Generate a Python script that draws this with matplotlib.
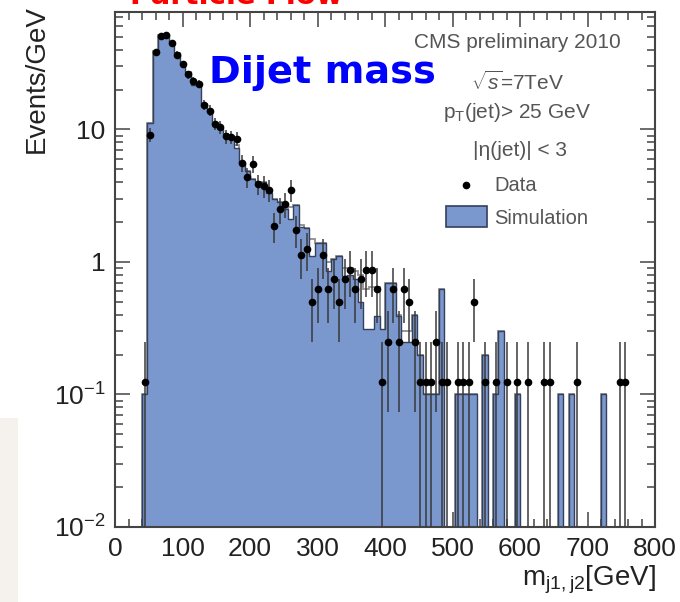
import numpy as np
import matplotlib
matplotlib.use("Agg")
import matplotlib.pyplot as plt
from matplotlib.patches import Rectangle
from matplotlib.lines import Line2D
from matplotlib.ticker import FixedLocator, FixedFormatter, MultipleLocator, LogLocator, NullFormatter

plt.rcParams['font.family'] = ['Liberation Sans', 'DejaVu Sans']
plt.rcParams['mathtext.fontset'] = 'custom'
plt.rcParams['mathtext.rm'] = 'Liberation Sans'
plt.rcParams['mathtext.it'] = 'Liberation Sans:italic'
plt.rcParams['mathtext.bf'] = 'Liberation Sans:bold'

# 8 GeV bins from 0 to 800 GeV
BIN_WIDTH = 8
bin_edges = np.arange(0, 800 + BIN_WIDTH, BIN_WIDTH)

# events per bin in data
data_counts = [
    0, 0, 0, 0, 0, 1, 73, 309, 405, 416,
    360, 294, 248, 208, 186, 177, 123, 111, 88, 83,
    71, 70, 68, 45, 35, 44, 31, 30, 28, 15,
    20, 22, 28, 14, 9, 10, 4, 5, 9, 5,
    6, 4, 6, 7, 5, 6, 7, 7, 5, 1,
    2, 5, 2, 5, 4, 2, 1, 1, 1, 2,
    1, 1, 0, 1, 1, 1, 4, 0, 1, 0,
    1, 0, 1, 0, 1, 0, 1, 0, 0, 1,
    1, 0, 0, 0, 0, 1, 0, 0, 0, 0,
    0, 0, 0, 1, 1, 0, 0, 0, 0, 0,
]

# simulation, events/GeV (filled)
sim_fill = [
    0, 0, 0, 0, 0, 0.1, 11.2, 39, 52, 52,
    46, 38, 31.5, 27, 21.5, 21.5, 15.5, 13.5, 11.2, 10.3,
    9.3, 8.6, 7.3, 5.6, 4.9, 4.2, 4.0, 4.0, 3.3, 3.0,
    2.85, 2.5, 2.1, 2.7, 1.85, 1.8, 1.1, 1.4, 1.4, 0.85,
    1.05, 1.1, 0.78, 0.8, 0.75, 0.5, 0.31, 0.31, 0.39, 0.31,
    0.7, 0.7, 0.39, 0.25, 0.25, 0.4, 0.2, 0.1, 0.1, 0.1,
    0.62, 0, 0, 0.1, 0.1, 0.1, 0.1, 0, 0.2, 0,
    0.1, 0.3, 0, 0, 0.1, 0, 0, 0, 0, 0,
    0, 0, 0.1, 0, 0.1, 0, 0, 0, 0, 0,
    0.1, 0, 0, 0, 0, 0, 0, 0, 0, 0,
]

# second simulation outline (gray line)
sim_line = [
    0, 0, 0, 0, 0, 0.1, 11.2, 39, 52, 52,
    46, 38, 31.5, 27, 21.5, 21.5, 15.5, 13.5, 11.2, 10.3,
    9.3, 8.6, 7.6, 5.6, 4.9, 4.2, 4.0, 4.0, 3.3, 3.0,
    2.85, 2.5, 2.6, 2.7, 1.9, 1.8, 1.5, 1.4, 1.4, 1.0,
    1.05, 1.1, 0.9, 0.9, 0.85, 0.8, 0.62, 0.65, 0.65, 0.3,
    0.7, 0.7, 0.4, 0.3, 0.3, 0.4, 0.2, 0.1, 0.1, 0.1,
    0.62, 0, 0, 0.1, 0.1, 0.1, 0.1, 0, 0.2, 0,
    0.1, 0.3, 0, 0, 0.1, 0, 0, 0, 0, 0,
    0, 0, 0.1, 0, 0.1, 0, 0, 0, 0, 0,
    0.1, 0, 0, 0, 0, 0, 0, 0, 0, 0,
]

xtick_vals = [0, 100, 200, 300, 400, 500, 600, 700, 800]
xtick_labels = ['0', '100', '200', '300', '400', '500', '600', '700', '800']
ytick_vals = [0.01, 0.1, 1, 10]
ytick_labels = [r'$10^{-2}$', r'$10^{-1}$', '1', '10']

BLUE = '#7a97ce'
EDGE = '#34405c'
TEXT_GRAY = '#555555'

W, H = 680, 602
fig = plt.figure(figsize=(W / 100, H / 100), dpi=100)


def fx(x):
    return x / W


def fy(y):
    return 1 - y / H


fig.add_artist(Rectangle((0, 0), fx(18), fy(418), transform=fig.transFigure,
                         facecolor='#f5f2ee', edgecolor='none', zorder=0))

ax = fig.add_axes([fx(115), fy(527), fx(655) - fx(115), fy(12) - fy(527)])
ax.set_yscale('log', nonpositive='clip')

sim_fill = np.array(sim_fill)
sim_line = np.array(sim_line)
ax.stairs(sim_line, bin_edges, color='#8f8f8f', lw=1.3, zorder=1)
ax.stairs(sim_fill, bin_edges, fill=True, color=BLUE, zorder=2)
ax.stairs(sim_fill, bin_edges, color=EDGE, lw=1.0, zorder=3)

counts = np.array(data_counts, dtype=float)
centers = 0.5 * (bin_edges[:-1] + bin_edges[1:])
has = counts > 0
vals = counts[has] / BIN_WIDTH
err = np.sqrt(counts[has]) / BIN_WIDTH
lower = np.minimum(err, vals * 0.999)
ax.errorbar(centers[has], vals, yerr=[lower, err], xerr=BIN_WIDTH / 2,
            fmt='o', ms=4.5, mfc='black', mec='black', ecolor='#3a3a3a',
            elinewidth=1.1, capsize=0, zorder=4)

ax.set_xlim(0, 800)
ax.set_ylim(0.01, 77)
ax.xaxis.set_major_locator(FixedLocator(xtick_vals))
ax.xaxis.set_major_formatter(FixedFormatter(xtick_labels))
ax.xaxis.set_minor_locator(MultipleLocator(20))
ax.yaxis.set_major_locator(FixedLocator(ytick_vals))
ax.yaxis.set_major_formatter(FixedFormatter(ytick_labels))
ax.yaxis.set_minor_locator(LogLocator(base=10, subs=range(2, 10)))
ax.yaxis.set_minor_formatter(NullFormatter())
ax.tick_params(which='both', direction='in', top=True, right=True,
               color='#444444', width=1.1, labelcolor='#222222')
ax.tick_params(which='major', length=11, labelsize=19, pad=7)
ax.tick_params(which='minor', length=5.5)
for s in ax.spines.values():
    s.set_color('#444444')
    s.set_linewidth(1.5)

fig.text(fx(37), fy(5), 'Events/GeV', rotation=90, ha='center', va='top',
         fontsize=20, color='#222222')
fig.text(fx(656), fy(585), r'm$_{\rm j1,j2}$[GeV]', ha='right', va='baseline',
         fontsize=20, color='#222222')

fig.text(fx(209), fy(83), 'Dijet mass', color='#0000ff', fontsize=27.5,
         fontweight='bold', family='DejaVu Sans', ha='left', va='baseline')
# heading above the frame, mostly outside the canvas
fig.text(fx(236), fy(4), 'Particle Flow', color='#ff0000', fontsize=21,
         fontweight='bold', family='DejaVu Sans', ha='center', va='baseline')

fig.text(fx(517), fy(42), 'CMS preliminary 2010', ha='center', va='center',
         fontsize=15, color=TEXT_GRAY)
fig.text(fx(518), fy(82), r'$\sqrt{s}$=7TeV', ha='center', va='center',
         fontsize=15, color=TEXT_GRAY)
fig.text(fx(517), fy(112), r'p$_{\rm T}$(jet)> 25 GeV', ha='center', va='center',
         fontsize=15, color=TEXT_GRAY)
fig.text(fx(520), fy(150), '|η(jet)| < 3', ha='center', va='center',
         fontsize=15, color=TEXT_GRAY)

fig.add_artist(Line2D([fx(466)], [fy(185)], marker='o', ms=4.5, color='black',
                      transform=fig.transFigure))
fig.text(fx(494), fy(185), 'Data', ha='left', va='center', fontsize=14.5,
         color=TEXT_GRAY)
fig.add_artist(Rectangle((fx(446), fy(227)), fx(487) - fx(446), fy(206) - fy(227),
                         transform=fig.transFigure, facecolor=BLUE,
                         edgecolor=EDGE, lw=1.2))
fig.text(fx(494), fy(218), 'Simulation', ha='left', va='center', fontsize=14.5,
         color=TEXT_GRAY)

fig.savefig('out.png', dpi=100)
